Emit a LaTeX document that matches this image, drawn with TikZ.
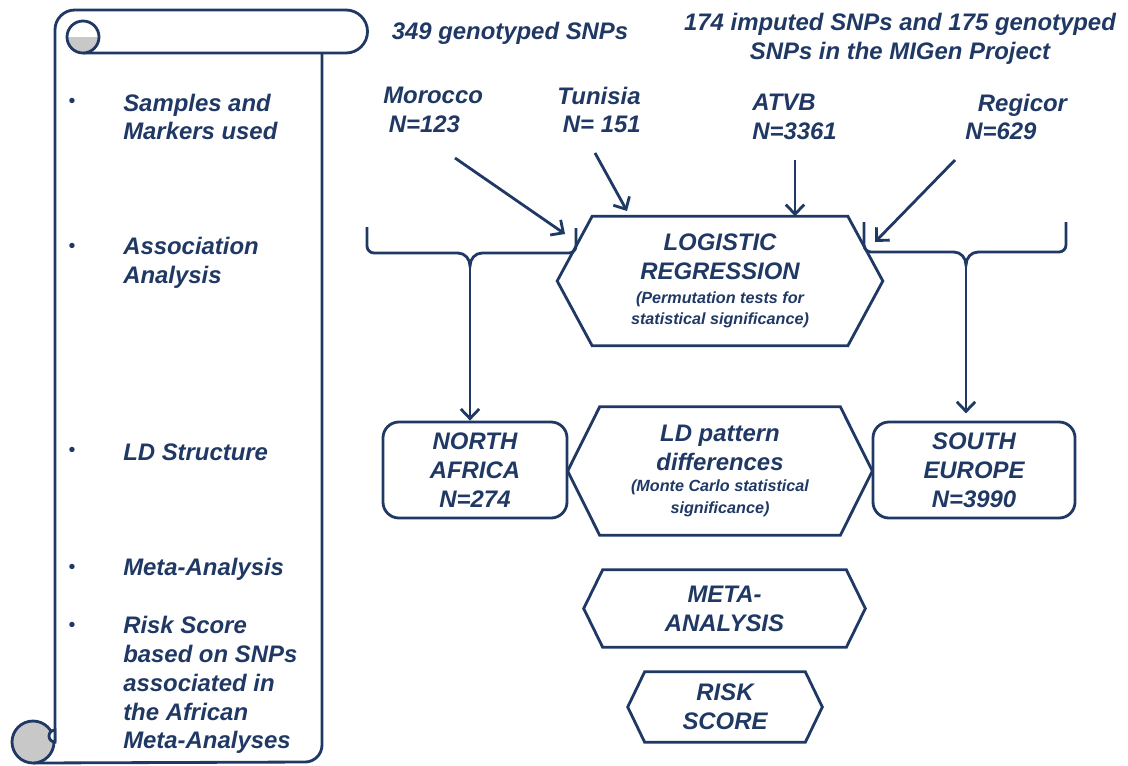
\documentclass[tikz,border=0pt]{standalone}
\usepackage{fontspec}
\setmainfont{Liberation Sans}
\usetikzlibrary{arrows.meta}
\definecolor{navy}{HTML}{203864}
\definecolor{curl}{HTML}{C8C8C8}
\tikzset{
  txt/.style={text=navy,font=\fontsize{17}{20.5}\selectfont\bfseries\itshape,align=center,inner sep=0pt},
  ln/.style={draw=navy,line width=2pt},
  arr/.style={ln,-{Straight Barb[length=2.4mm,width=4.6mm]}},
  roundbox/.style={ln,rounded corners=4mm}
}
% hexagon round a node: name, indent
\newcommand{\hexaround}[2]{%
  \draw[ln] (#1.west) -- ([xshift=#2]#1.north west) -- ([xshift=-#2]#1.north east)
    -- (#1.east) -- ([xshift=-#2]#1.south east) -- ([xshift=#2]#1.south west) -- cycle;}
\newcommand{\smalltxt}{\fontsize{11.5}{14}\selectfont}

\begin{document}
\begin{tikzpicture}[x=0.025cm,y=-0.025cm]
  \useasboundingbox (0,0) rectangle (1128,765);

  % scroll on the left
  \draw[ln,rounded corners=14pt] (55,742) -- (55,10) -- (346,10);
  \draw[ln] (346,10) arc[start angle=-90,end angle=90,radius=21.5] -- (83,53);
  \fill[curl] (67,37) arc[start angle=180,end angle=0,radius=16] -- cycle;
  \draw[ln] (83,37) circle[radius=16]; % top curl
  \draw[ln] (322,53) -- (322,745) arc[start angle=0,end angle=90,radius=17] -- (33,763);
  \filldraw[ln,fill=curl] (33,742) circle[radius=21]; % bottom curl
  \filldraw[ln,fill=white] (55,730) arc[start angle=-90,end angle=-270,radius=6] -- cycle;

  % bullets
  \foreach \yy in {103,248,452,569,627}
    \node[txt,font=\fontsize{14}{16}\selectfont] (b\yy) at (72,\yy) {\textbullet};

  % steps on the scroll
  \node[txt,align=left,anchor=west] (st1) at (123,117) {Samples and\\Markers used};
  \node[txt,align=left,anchor=west] (st2) at (123,263) {Association\\Analysis};
  \node[txt,align=left,anchor=west] (st3) at (123,452) {LD Structure};
  \node[txt,align=left,anchor=west] (st4) at (123,569) {Meta-Analysis};
  \node[txt,align=left,anchor=west] (st5) at (123,685) {Risk Score\\based on SNPs\\associated in\\the African\\Meta-Analyses};

  % markers and samples
  \node[txt] (gen) at (510,33) {349 genotyped SNPs};
  \node[txt] (imp) at (900,39) {174 imputed SNPs and 175 genotyped\\SNPs in the MIGen Project};
  \node[txt,align=left,anchor=west] (mor) at (383,110) {Morocco\\\hspace*{4pt}N=123};
  \node[txt,align=left,anchor=west] (tun) at (557,110) {Tunisia\\\hspace*{4pt}N= 151};
  \node[txt,align=left,anchor=west] (atvb) at (752,117) {ATVB\\N=3361};
  \node[txt,align=left,anchor=west] (reg) at (965,117) {\hspace*{9pt}Regicor\\N=629};

  % boxes
  \node[txt,minimum width=8.125cm,minimum height=3.225cm] (lr) at (720,281)
    {LOGISTIC\\REGRESSION\\[-3.8pt]{\smalltxt(Permutation tests for}\\[-5.5pt]{\smalltxt statistical significance)}};
  \hexaround{lr}{0.875cm}
  \node[txt,minimum width=7.6cm,minimum height=3.2cm] (ld) at (720,471)
    {LD pattern\\differences\\[-5pt]{\smalltxt(Monte Carlo statistical}\\[-5pt]{\smalltxt significance)}};
  \hexaround{ld}{0.8cm}
  \node[txt,roundbox,minimum width=4.6cm,minimum height=2.4cm] (na) at (475,470) {NORTH\\AFRICA\\N=274};
  \node[txt,roundbox,minimum width=5.05cm,minimum height=2.4cm] (se) at (974,470) {SOUTH\\EUROPE\\N=3990};
  \node[txt,minimum width=7.025cm,minimum height=1.925cm] (meta) at (724.5,608.5) {META-\\ANALYSIS};
  \hexaround{meta}{0.475cm}
  \node[txt,minimum width=4.85cm,minimum height=1.75cm] (risk) at (725,707) {RISK\\SCORE};
  \hexaround{risk}{0.425cm}

  % arrows into the regression
  \coordinate (morTail) at (455,158);
  \coordinate (morTip) at (565,234);
  \coordinate (tunTail) at (595,153);
  \coordinate (tunTip) at (627,211);
  \coordinate (atvTail) at (795,160);
  \coordinate (regTail) at (955,160);
  \coordinate (regTip) at (875,242);
  \draw[arr] (morTail) -- (morTip);
  \draw[arr] (tunTail) -- (tunTip);
  \draw[arr] (atvTail) -- (atvTail |- lr.north);
  \draw[arr] (regTail) -- (regTip);

  % left brace
  \coordinate (lbr) at (470,266);
  \draw[ln,rounded corners=5pt] (367,227) -- (367,253) -- (458,253);
  \draw[ln] (458,253) to[out=0,in=90] (lbr) to[out=90,in=180] (482,253);
  \draw[ln,rounded corners=5pt] (482,253) -- (576,253) -- (576,228);
  \draw[arr] (lbr) -- (lbr |- na.north);

  % right brace
  \coordinate (rbr) at (966,265);
  \draw[ln,rounded corners=5pt] (864,222) -- (864,252) -- (954,252);
  \draw[ln] (954,252) to[out=0,in=90] (rbr) to[out=90,in=180] (978,252);
  \draw[ln,rounded corners=5pt] (978,252) -- (1066,252) -- (1066,222);
  \draw[arr,shorten >=0.18cm] (rbr) -- (rbr |- se.north);
\end{tikzpicture}
\end{document}
